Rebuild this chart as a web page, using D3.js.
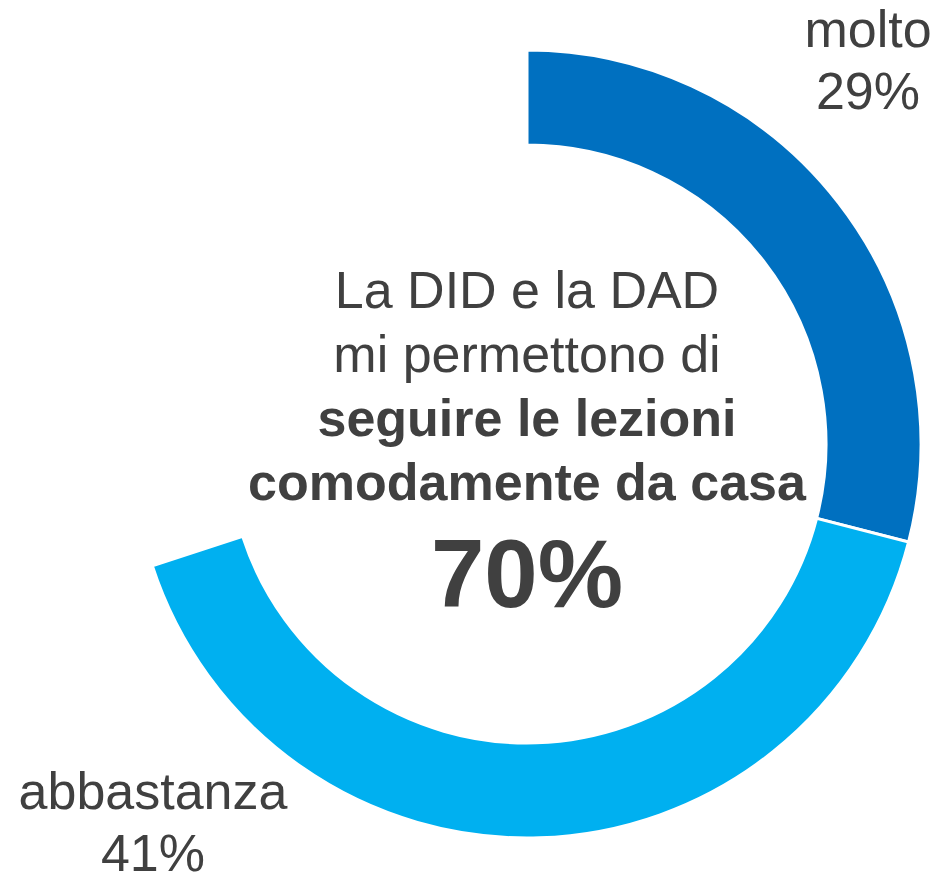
<!DOCTYPE html>
<html>
<head>
<meta charset="utf-8">
<script src="https://cdn.jsdelivr.net/npm/d3@7"></script>
<style>
  body { margin: 0; background: #fff; }
  text { font-family: "Liberation Sans", Arial, sans-serif; fill: #404040; }
</style>
</head>
<body>
<div id="chart"></div>
<script>
var categories = ["molto", "abbastanza"];
var values = [29, 41];
var colors = ["#0070C0", "#00B0F0"];
var title_lines = ["La DID e la DAD", "mi permettono di", "seguire le lezioni", "comodamente da casa"];
var title_bold = [false, false, true, true];
var total_label = "70%";

var width = 939, height = 875;
var cx = 527, cy = 444;
var outer_r = 394, inner_r = 299;

var svg = d3.select("#chart")
    .append("svg")
    .attr("width", width)
    .attr("height", height);

var g = svg.append("g")
    .attr("transform", `translate(${cx}, ${cy})`);

var total = d3.sum(values);
var pie = d3.pie()
    .sort(null)
    .startAngle(0)
    .endAngle(2 * Math.PI * total / 100);

var arc = d3.arc()
    .innerRadius(inner_r)
    .outerRadius(outer_r);

g.selectAll("path")
    .data(pie(values))
    .enter()
    .append("path")
    .attr("d", arc)
    .style("fill", function(d, i) { return colors[i]; })
    .attr("stroke", "#fff")
    .attr("stroke-width", 3);

// center text
g.selectAll(".title")
    .data(title_lines)
    .enter()
    .append("text")
    .attr("class", "title")
    .attr("x", 0)
    .attr("y", function(d, i) { return -136 + i * 64; })
    .style("text-anchor", "middle")
    .style("font-size", "52px")
    .style("font-weight", function(d, i) { return title_bold[i] ? "bold" : "normal"; })
    .text(function(d) { return d; });

g.append("text")
    .attr("x", 0)
    .attr("y", 163)
    .style("text-anchor", "middle")
    .style("font-size", "96px")
    .style("font-weight", "bold")
    .text(total_label);

// outside labels
var label_pos = [[868, 47], [153, 809]];
categories.forEach(function(c, i) {
    var t = svg.append("text")
        .attr("x", label_pos[i][0])
        .attr("y", label_pos[i][1])
        .style("text-anchor", "middle")
        .style("font-size", "52px");
    t.append("tspan").attr("x", label_pos[i][0]).text(c);
    t.append("tspan").attr("x", label_pos[i][0]).attr("dy", 62).text(values[i] + "%");
});
</script>
</body>
</html>
